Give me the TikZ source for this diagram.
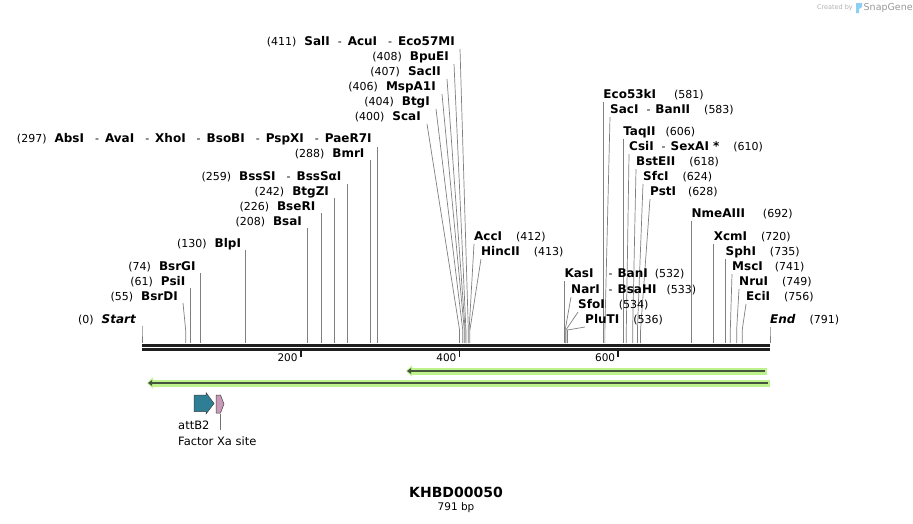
\documentclass[tikz,border=0pt]{standalone}
\usepackage{fontspec}
\setmainfont{DejaVu Sans}
\usetikzlibrary{arrows.meta}
\usetikzlibrary{calc}
\usetikzlibrary{positioning}
\usetikzlibrary{backgrounds}

\definecolor{halogreen}{HTML}{BDF28C}
\definecolor{coregreen}{HTML}{46563E}
\definecolor{attteal}{HTML}{2E7E96}
\definecolor{xapink}{HTML}{C99AB8}
\definecolor{logoblue}{HTML}{8CCFF2}

% x position of a base pair on the backbone
\newcommand{\bp}[1]{142+0.79393*#1}
\newcommand{\enz}[1]{{\fontsize{12}{13}\selectfont\bfseries #1}}
\newcommand{\gapn}{\hspace{8pt}}
\newcommand{\gapr}{\hspace{14pt}}
\newcommand{\dsh}{\hspace{11pt}-\hspace{6pt}}

\begin{document}
\begin{tikzpicture}[x=1pt, y=-1pt,
        lbl_left/.style={anchor=east, inner sep=0pt, font=\fontsize{11}{13}\selectfont},
        lbl_right/.style={anchor=west, inner sep=0pt, font=\fontsize{11}{13}\selectfont},
        site_style/.style={draw=black!50, line width=0.7pt},
        tick_style/.style={draw=black!90, line width=1.8pt},
        tick_label/.style={anchor=east, inner sep=0pt, font=\fontsize{10.5}{12}\selectfont},
        feat_label/.style={anchor=west, inner sep=0pt, font=\fontsize{11.5}{13}\selectfont},
        halo_style/.style={draw=halogreen, line width=7pt, -{Triangle[length=6pt,width=11pt]}},
        core_style/.style={draw=coregreen, line width=2.6pt, -{Triangle[length=4pt,width=5.5pt]}}]

        \begin{scope}[on background layer]
        \fill [white] (0,0) rectangle (913,523);
        \end{scope}
        \useasboundingbox (0,0) rectangle (913,523);

        % knee and foot of every site line
        \foreach \p in {0,55,61,74,130,208,226,242,259,288,297,400,404,406,407,408,411,412,413,
                        532,533,534,536,581,583,606,610,618,624,628,692,720,735,741,749,756,791} {
            \coordinate (k\p) at ({\bp{\p}},330);
            \coordinate (s\p) at ({\bp{\p}},343);
        }

        % backbone
        \draw [line width=3pt, black!88] (142,345.5) -- (770,345.5);
        \draw [line width=2.6pt, black!88] (142,349.6) -- (770,349.6);

        \foreach \t in {200,400,600} {
            \draw [tick_style] ({\bp{\t}},350) -- ({\bp{\t}},357);
            \node [tick_label] (t\t) at ({\bp{\t}-3},357.5) {\t};
        }

        % left hand labels
        \node [lbl_left] (start) at ({\bp{0}-6},320) {(0)\gapn\enz{\itshape Start}};

        \node [lbl_left] (bsrdi) at (178,297) {(55)\gapn\enz{BsrDI}};

        \node [lbl_left] (psii) at ({\bp{61}-5},282) {(61)\gapn\enz{PsiI}};

        \node [lbl_left] (bsrgi) at ({\bp{74}-5},267) {(74)\gapn\enz{BsrGI}};

        \node [lbl_left] (blpi) at ({\bp{130}-4},244) {(130)\gapn\enz{BlpI}};

        \node [lbl_left] (bsai) at ({\bp{208}-5},222) {(208)\gapn\enz{BsaI}};

        \node [lbl_left] (bseri) at ({\bp{226}-6},207) {(226)\gapn\enz{BseRI}};

        \node [lbl_left] (btgzi) at ({\bp{242}-5},192) {(242)\gapn\enz{BtgZI}};

        \node [lbl_left] (bsssi) at ({\bp{259}-6},177) {(259)\gapn\enz{BssSI}\dsh\enz{BssSαI}};

        \node [lbl_left] (bmri) at ({\bp{288}-6},154) {(288)\gapn\enz{BmrI}};

        \node [lbl_left] (absi) at ({\bp{297}-6},139) {(297)\gapn\enz{AbsI}\dsh\enz{AvaI}\dsh\enz{XhoI}\dsh\enz{BsoBI}\dsh\enz{PspXI}\dsh\enz{PaeR7I}};

        \node [lbl_left] (scai) at (421,117) {(400)\gapn\enz{ScaI}};

        \node [lbl_left] (btgi) at (430,102) {(404)\gapn\enz{BtgI}};

        \node [lbl_left] (mspa1i) at (436,87) {(406)\gapn\enz{MspA1I}};

        \node [lbl_left] (sacii) at (441,72) {(407)\gapn\enz{SacII}};

        \node [lbl_left] (bpuei) at (449,57) {(408)\gapn\enz{BpuEI}};

        \node [lbl_left] (sali) at (455,42) {(411)\gapn\enz{SalI}\hspace{8pt}-\hspace{6pt}\enz{AcuI}\dsh\enz{Eco57MI}};

        % right hand labels
        \node [lbl_right] (acci) at (474,237) {\enz{AccI}\gapr(412)};

        \node [lbl_right] (hincii) at (481,252) {\enz{HincII}\gapr(413)};

        \node [lbl_right] (kasi) at ({\bp{532}},274) {\enz{KasI}\hspace{15pt}-\hspace{5pt}\enz{BanI}\hspace{7pt}(532)};

        \node [lbl_right] (nari) at (571,290) {\enz{NarI}\hspace{9pt}-\hspace{5pt}\enz{BsaHI}\hspace{10pt}(533)};

        \node [lbl_right] (sfoi) at (578,305) {\enz{SfoI}\gapr(534)};

        \node [lbl_right] (pluti) at (585,320) {\enz{PluTI}\gapr(536)};

        \node [lbl_right] (eco53ki) at ({\bp{581}},95) {\enz{Eco53kI}\hspace{18pt}(581)};

        \node [lbl_right] (saci) at (610,110) {\enz{SacI}\hspace{8pt}-\hspace{5pt}\enz{BanII}\gapr(583)};

        \node [lbl_right] (taqii) at ({\bp{606}},132) {\enz{TaqII}\hspace{10pt}(606)};

        \node [lbl_right] (csii) at (629,147) {\enz{CsiI}\hspace{8pt}-\hspace{5pt}\enz{SexAI *}\gapr(610)};

        \node [lbl_right] (bsteii) at (636,162) {\enz{BstEII}\gapr(618)};

        \node [lbl_right] (sfci) at (643,177) {\enz{SfcI}\gapr(624)};

        \node [lbl_right] (psti) at (650,192) {\enz{PstI}\hspace{12pt}(628)};

        \node [lbl_right] (nmeaiii) at ({\bp{692}},214) {\enz{NmeAIII}\hspace{18pt}(692)};

        \node [lbl_right] (xcmi) at ({\bp{720}},237) {\enz{XcmI}\gapr(720)};

        \node [lbl_right] (sphi) at ({\bp{735}},252) {\enz{SphI}\gapr(735)};

        \node [lbl_right] (msci) at (732,267) {\enz{MscI}\hspace{12pt}(741)};

        \node [lbl_right] (nrui) at (739,282) {\enz{NruI}\gapr(749)};

        \node [lbl_right] (ecii) at (746,297) {\enz{EciI}\gapr(756)};

        \node [lbl_right] (end) at ({\bp{791}},320) {\enz{\itshape End}\gapr(791)};

        % site lines, kept behind the labels
        \begin{scope}[on background layer]
        \draw [site_style] ([shift={(6,6)}]start.east) -- (k0) -- (s0);
        \draw [site_style] ([shift={(5,6)}]bsrdi.east) -- (k55) -- (s55);
        \draw [site_style] ([shift={(5,6)}]psii.east) -- (k61) -- (s61);
        \draw [site_style] ([shift={(5,6)}]bsrgi.east) -- (k74) -- (s74);
        \draw [site_style] ([shift={(4,6)}]blpi.east) -- (k130) -- (s130);
        \draw [site_style] ([shift={(5,6)}]bsai.east) -- (k208) -- (s208);
        \draw [site_style] ([shift={(6,6)}]bseri.east) -- (k226) -- (s226);
        \draw [site_style] ([shift={(5,6)}]btgzi.east) -- (k242) -- (s242);
        \draw [site_style] ([shift={(6,7)}]bsssi.east) -- (k259) -- (s259);
        \draw [site_style] ([shift={(6,6)}]bmri.east) -- (k288) -- (s288);
        \draw [site_style] ([shift={(6,8)}]absi.east) -- (k297) -- (s297);
        \draw [site_style] ([shift={(6,7)}]scai.east) -- (k400) -- (s400);
        \draw [site_style] ([shift={(6,7)}]btgi.east) -- (k404) -- (s404);
        \draw [site_style] ([shift={(6,7)}]mspa1i.east) -- (k406) -- (s406);
        \draw [site_style] ([shift={(6,7)}]sacii.east) -- (k407) -- (s407);
        \draw [site_style] ([shift={(5,7)}]bpuei.east) -- (k408) -- (s408);
        \draw [site_style] ([shift={(5,7)}]sali.east) -- (k411) -- (s411);

        \draw [site_style] ([shift={(0,7)}]acci.west) -- (k412) -- (s412);
        \draw [site_style] ([shift={(0,7)}]hincii.west) -- (k413) -- (s413);
        \draw [site_style] ([shift={(0,7)}]kasi.west) -- (k532) -- (s532);
        \draw [site_style] ([shift={(0,7)}]nari.west) -- (k533) -- (s533);
        \draw [site_style] ([shift={(0,7)}]sfoi.west) -- (k534) -- (s534);
        \draw [site_style] ([shift={(0,7)}]pluti.west) -- (k536) -- (s536);
        \draw [site_style] ([shift={(0,7)}]eco53ki.west) -- (k581) -- (s581);
        \draw [site_style] ([shift={(0,7)}]saci.west) -- (k583) -- (s583);
        \draw [site_style] ([shift={(0,7)}]taqii.west) -- (k606) -- (s606);
        \draw [site_style] ([shift={(0,7)}]csii.west) -- (k610) -- (s610);
        \draw [site_style] ([shift={(0,7)}]bsteii.west) -- (k618) -- (s618);
        \draw [site_style] ([shift={(0,7)}]sfci.west) -- (k624) -- (s624);
        \draw [site_style] ([shift={(0,7)}]psti.west) -- (k628) -- (s628);
        \draw [site_style] ([shift={(0,7)}]nmeaiii.west) -- (k692) -- (s692);
        \draw [site_style] ([shift={(0,7)}]xcmi.west) -- (k720) -- (s720);
        \draw [site_style] ([shift={(0,7)}]sphi.west) -- (k735) -- (s735);
        \draw [site_style] ([shift={(0,7)}]msci.west) -- (k741) -- (s741);
        \draw [site_style] ([shift={(0,7)}]nrui.west) -- (k749) -- (s749);
        \draw [site_style] ([shift={(0,7)}]ecii.west) -- (k756) -- (s756);
        \draw [site_style] ([shift={(0,7)}]end.west) -- (k791) -- (s791);
        \end{scope}

        % open reading frames
        \coordinate (orf1_a) at (767,371);
        \coordinate (orf1_b) at (406,371);
        \coordinate (orf2_a) at (770,383);
        \coordinate (orf2_b) at (147,383);
        \draw [halo_style] (orf1_a) -- (orf1_b);
        \draw [core_style] ([xshift=-2pt]orf1_a) -- ([xshift=1pt]orf1_b);
        \draw [halo_style] (orf2_a) -- (orf2_b);
        \draw [core_style] ([xshift=-2pt]orf2_a) -- ([xshift=1pt]orf2_b);

        % features
        \filldraw [fill=attteal, draw=black!75, line width=0.5pt]
            (194,395) -- (206,395) -- (206,392.5) -- (214,403.5) -- (206,414) -- (206,411.5) -- (194,411.5) -- cycle;
        \filldraw [fill=xapink, draw=black!75, line width=0.5pt]
            (216,395) -- (220.5,395) -- (224,404) -- (220.5,413) -- (216,413) -- cycle;
        \node [feat_label] (attb2) at (178,425) {attB2};
        \node [feat_label] (fxa) at (178,441) {Factor Xa site};
        \coordinate (fxa_top) at (220.5,414);
        \draw [black!55, line width=0.5pt] (fxa_top) -- (fxa_top |- attb2.south);

        % title
        \node [font=\fontsize{14}{16}\selectfont\bfseries] (title) at (456,492) {KHBD00050};
        \node [font=\fontsize{10.5}{12}\selectfont, below=0pt of title, inner sep=1pt] (len) {791 bp};

        % watermark
        \node [anchor=east, inner sep=0pt, text=black!30, font=\fontsize{6.5}{8}\selectfont] (created) at (853,8) {Created by};
        \fill [logoblue] (856,3) -- (862,3) -- (862,7) -- (859,9) -- (859,13) -- (856,13) -- cycle;
        \node [anchor=west, inner sep=0pt, text=black!40, font=\fontsize{9.5}{11}\selectfont] (snapgene) at (863.5,8) {SnapGene};

\end{tikzpicture}
\end{document}
